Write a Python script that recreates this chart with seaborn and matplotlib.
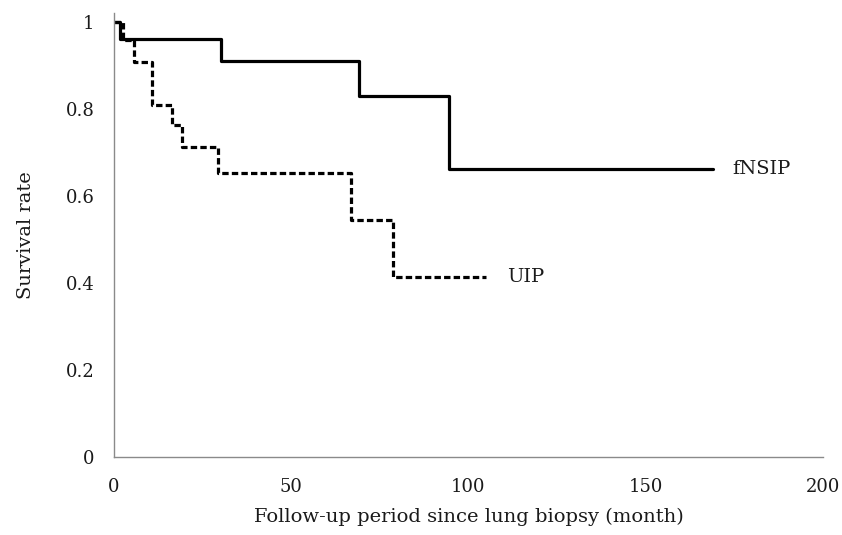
import matplotlib
matplotlib.use("Agg")
import matplotlib.pyplot as plt
import seaborn as sns
import pandas as pd

# Kaplan-Meier step data
fnsip_time = [0, 1.7, 30.1, 69.1, 94.5, 169]
fnsip_surv = [1.0, 0.960, 0.910, 0.829, 0.661, 0.661]
uip_time = [0, 2.6, 5.5, 10.6, 16.3, 19.1, 29.4, 66.8, 78.7, 105]
uip_surv = [1.0, 0.958, 0.908, 0.808, 0.762, 0.713, 0.652, 0.544, 0.413, 0.413]
groups = ["fNSIP", "UIP"]
x_ticks = [0, 50, 100, 150, 200]
y_ticks = [0, 0.2, 0.4, 0.6, 0.8, 1]
y_tick_labels = ["0", "0.2", "0.4", "0.6", "0.8", "1"]

df = pd.concat([
    pd.DataFrame({"time": fnsip_time, "surv": fnsip_surv, "group": groups[0]}),
    pd.DataFrame({"time": uip_time, "surv": uip_surv, "group": groups[1]}),
], ignore_index=True)

sns.set_style("white")
plt.rcParams["font.family"] = ["DejaVu Serif", "Liberation Serif"]

fig = plt.figure(figsize=(8.42, 5.35), dpi=100)
ax = fig.add_axes([0.1354, 0.1464, 0.842, 0.829])

sns.lineplot(data=df, x="time", y="surv", hue="group", style="group",
             palette={"fNSIP": "black", "UIP": "black"},
             dashes={"fNSIP": "", "UIP": (2.0, 1.0)},
             drawstyle="steps-post", estimator=None, sort=False,
             linewidth=2.3, legend=False, ax=ax)

ax.set_xlim(0, 200)
ax.set_ylim(0, 1.02)
ax.set_xticks(x_ticks)
ax.set_xticklabels([str(t) for t in x_ticks])
ax.set_yticks(y_ticks)
ax.set_yticklabels(y_tick_labels)

for s in ["top", "right"]:
    ax.spines[s].set_visible(False)
for s in ["left", "bottom"]:
    ax.spines[s].set_color("#8a8a8a")
    ax.spines[s].set_linewidth(1.0)

ax.tick_params(axis="both", which="major", direction="out", length=4,
               width=1.0, color="#8a8a8a", labelsize=13, labelcolor="#1a1a1a")
ax.tick_params(axis="y", pad=10)
ax.tick_params(axis="x", pad=11)

ax.set_xlabel("Follow-up period since lung biopsy (month)", fontsize=14,
              color="#1a1a1a", labelpad=9)
ax.set_ylabel("Survival rate", fontsize=14, color="#1a1a1a", labelpad=22)

ax.text(174.3, fnsip_surv[-1], "fNSIP", fontsize=14, va="center", ha="left",
        color="#1a1a1a")
ax.text(110.9, uip_surv[-1], "UIP", fontsize=14, va="center", ha="left",
        color="#1a1a1a")

fig.savefig("out.png", dpi=100)
